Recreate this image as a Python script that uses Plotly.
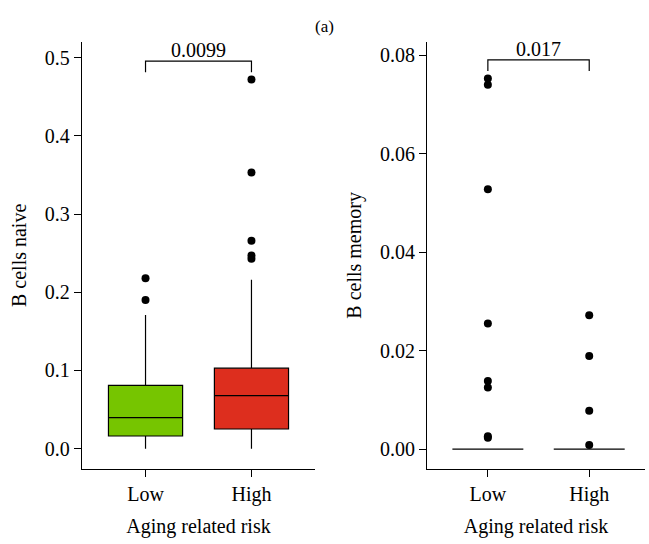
import plotly.graph_objects as go

# Risk groups on the x axis
groups = ["Low", "High"]

# B cells naive: box statistics per group
naive_q1 = [0.0162, 0.0252]
naive_median = [0.0397, 0.0678]
naive_q3 = [0.0810, 0.1030]
naive_lower = [0.0, 0.0]
naive_upper = [0.171, 0.216]
naive_out_low = [0.218, 0.190]
naive_out_high = [0.472, 0.353, 0.266, 0.247, 0.243]
naive_p = "0.0099"

# B cells memory: box statistics per group
memory_q1 = [0.0, 0.0]
memory_median = [0.0, 0.0]
memory_q3 = [0.0, 0.0]
memory_lower = [0.0, 0.0]
memory_upper = [0.0, 0.0]
memory_out_low = [0.0753, 0.0740, 0.0528, 0.0255, 0.0138, 0.0125, 0.0026, 0.0023]
memory_out_high = [0.0272, 0.0189, 0.0078, 0.0008]
memory_p = "0.017"

box_colors = ["#76C500", "#DD2E1E"]
FONT = "Liberation Serif"
FS = 20

fig = go.Figure()


def add_panel(xa, ya, q1, med, q3, lo, hi, out_low, out_high, pval):
    for i, g in enumerate(groups):
        fig.add_trace(go.Box(
            x=[g], q1=[q1[i]], median=[med[i]], q3=[q3[i]],
            lowerfence=[lo[i]], upperfence=[hi[i]],
            fillcolor=box_colors[i], line=dict(color="black", width=1.2),
            width=0.7, whiskerwidth=0, boxpoints=False,
            xaxis=xa, yaxis=ya, showlegend=False, hoverinfo="skip",
        ))
    for g, vals in zip(groups, [out_low, out_high]):
        fig.add_trace(go.Scatter(
            x=[g] * len(vals), y=vals, mode="markers",
            marker=dict(color="black", size=8),
            xaxis=xa, yaxis=ya, showlegend=False, hoverinfo="skip",
        ))
    # significance bracket above the highest point
    top = max(out_low + out_high)
    span = top - min(lo)
    y_br = top + 0.05 * span
    tip = 0.03 * span
    ref = dict(xref=xa, yref=ya)
    fig.add_trace(go.Scatter(
        x=[groups[0], groups[0], groups[1], groups[1]],
        y=[y_br - tip, y_br, y_br, y_br - tip],
        mode="lines", line=dict(color="black", width=1.2),
        xaxis=xa, yaxis=ya, showlegend=False, hoverinfo="skip",
    ))
    fig.add_annotation(x=0.5, y=y_br, text=pval, showarrow=False,
                       yanchor="bottom", yshift=-2,
                       font=dict(family=FONT, size=FS, color="black"), **ref)


add_panel("x", "y", naive_q1, naive_median, naive_q3, naive_lower, naive_upper,
          naive_out_low, naive_out_high, naive_p)
add_panel("x2", "y2", memory_q1, memory_median, memory_q3, memory_lower, memory_upper,
          memory_out_low, memory_out_high, memory_p)

axis_common = dict(
    showline=True, linecolor="black", linewidth=1.3,
    ticks="outside", ticklen=7, tickwidth=1.2, tickcolor="black",
    showgrid=False, zeroline=False,
    tickfont=dict(family=FONT, size=FS, color="black"),
)
xtitle = dict(text="Aging related risk", font=dict(family=FONT, size=FS, color="black"), standoff=14)

fig.update_layout(
    width=649, height=544,
    margin=dict(l=0, r=0, t=0, b=0),
    plot_bgcolor="white", paper_bgcolor="white",
    xaxis=dict(domain=[0.1263, 0.4854], anchor="y", type="category",
               categoryorder="array", categoryarray=groups,
               range=[-0.6, 1.6], title=xtitle, **axis_common),
    yaxis=dict(domain=[0.1384, 0.9228], anchor="x", range=[-0.0256, 0.52],
               tickvals=[0, 0.1, 0.2, 0.3, 0.4, 0.5], tickformat=".1f",
               title=dict(text="B cells naive", font=dict(family=FONT, size=FS, color="black"), standoff=12),
               **axis_common),
    xaxis2=dict(domain=[0.658, 0.9938], anchor="y2", type="category",
                categoryorder="array", categoryarray=groups,
                range=[-0.6, 1.55], title=xtitle, **axis_common),
    yaxis2=dict(domain=[0.1384, 0.9228], anchor="x2", range=[-0.004, 0.0827],
                tickvals=[0, 0.02, 0.04, 0.06, 0.08], tickformat=".2f",
                title=dict(text="B cells memory", font=dict(family=FONT, size=FS, color="black"), standoff=12),
                **axis_common),
)

fig.add_annotation(x=0.5, y=1 - 15 / 544, xref="paper", yref="paper", text="(a)",
                   showarrow=False, font=dict(family=FONT, size=17, color="black"))

fig.write_html("out.html")
